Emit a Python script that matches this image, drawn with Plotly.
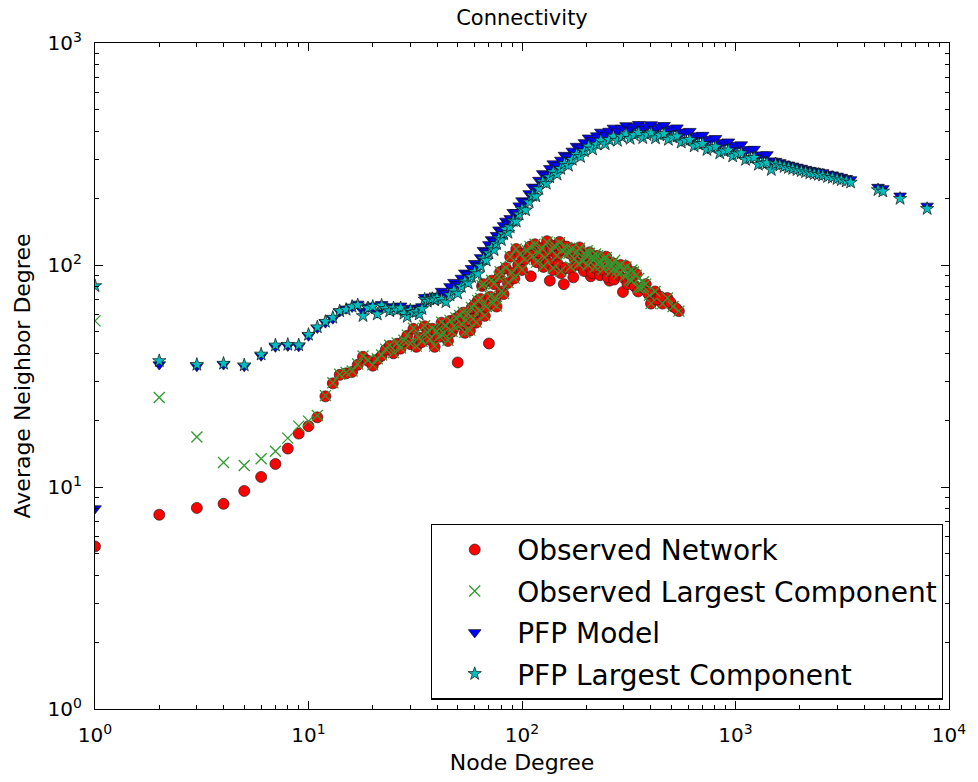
import plotly.graph_objects as go

# ---------------- data ----------------
obs_net_deg = [1, 2, 3, 4, 5, 6, 7, 8, 9, 10,
               11, 12, 13, 14, 15, 16, 17, 18, 19, 20,
               21, 22, 23, 24, 25, 26, 27, 28, 29, 30,
               31, 32, 33, 34, 35, 36, 37, 38, 39, 40,
               41, 42, 43, 44, 45, 46, 47, 48, 49, 50,
               51, 52, 53, 54, 55, 56, 57, 58, 59, 60,
               61, 62, 63, 64, 65, 66, 67, 68, 70, 71,
               72, 73, 74, 75, 76, 78, 79, 80, 82, 84,
               86, 88, 90, 92, 94, 96, 98, 100, 103, 106,
               109, 110, 112, 115, 117, 120, 124, 128, 131, 135,
               138, 142, 146, 150, 154, 157, 162, 166, 171, 176,
               181, 186, 192, 198, 207, 210, 216, 226, 236, 248,
               257, 266, 278, 290, 297, 307, 320, 333, 343, 360,
               380, 395, 402, 420, 455, 480, 510, 543,
               126, 133, 140, 148, 152, 160, 169, 174, 184, 195,
               204, 213, 220, 232, 240, 252, 262, 270, 284, 302,
               312, 326, 338, 350, 370, 388, 430, 445, 495, 525]
obs_net_avg = [5.4, 7.5, 8.05, 8.4, 9.6, 11.1, 12.7, 14.9, 17.4, 18.8,
               20.6, 25.6, 29.3, 32.0, 32.5, 33.0, 35.5, 38.6, 37.0, 35.2,
               37.5, 39.0, 41.5, 43.2, 40.0, 44.2, 42.0, 45.5, 48.0, 44.0,
               51.6, 42.8, 47.0, 45.0, 53.0, 49.5, 46.0, 51.6, 42.8, 50.0,
               47.5, 55.0, 49.0, 53.0, 45.5, 56.0, 50.0, 52.6, 57.5, 36.4,
               58.9, 54.0, 61.0, 49.5, 56.0, 60.0, 50.6, 64.0, 57.0, 66.0,
               55.0, 69.0, 62.0, 70.3, 80.5, 82.0, 59.0, 64.7, 44.3, 72.0,
               85.0, 67.0, 82.0, 70.3, 65.0, 88.0, 93.0, 76.0, 74.0, 97.0,
               83.0, 109.0, 92.0, 87.0, 118.0, 100.0, 112.0, 95.0, 106.0, 116.0,
               121.0, 89.0, 110.0, 124.0, 103.0, 114.0, 119.0, 108.0, 128.0, 85.0,
               116.0, 122.0, 110.0, 127.0, 117.0, 82.0, 121.0, 113.0, 118.0, 107.0,
               115.0, 120.0, 104.0, 111.0, 114.0, 89.0, 105.0, 110.0, 99.0, 109.0,
               85.0, 102.0, 94.0, 100.0, 75.6, 99.0, 86.0, 93.0, 91.0, 78.0,
               82.0, 73.0, 67.0, 76.0, 67.0, 71.0, 65.0, 62.0,
               98.0, 102.0, 95.0, 100.0, 92.0, 97.0, 96.0, 88.0, 100.0, 94.0,
               99.0, 92.0, 97.0, 90.0, 95.0, 88.0, 93.0, 86.0, 90.0, 87.0,
               82.0, 84.0, 80.0, 76.0, 79.0, 75.0, 70.0, 72.0, 68.0, 64.0]

obs_lc_deg = [1, 2, 3, 4, 5, 6, 7, 8, 9, 10,
              11, 12, 13, 14, 15, 16, 17, 18, 19, 20,
              21, 22, 23, 24, 25, 26, 27, 28, 29, 30,
              31, 32, 33, 34, 35, 36, 37, 38, 39, 40,
              41, 42, 43, 44, 45, 46, 47, 48, 49, 51,
              52, 53, 54, 55, 56, 57, 58, 59, 60, 61,
              62, 63, 64, 65, 66, 67, 68, 71, 72, 73,
              74, 75, 76, 78, 79, 80, 82, 84, 86, 88,
              90, 92, 94, 96, 98, 100, 103, 106, 109, 112,
              115, 117, 120, 124, 128, 131, 138, 142, 146, 150,
              154, 160, 162, 166, 171, 176, 181, 186, 192, 198,
              202, 207, 212, 216, 221, 226, 231, 236, 242, 248,
              254, 260, 266, 272, 278, 284, 290, 298, 307, 314,
              320, 327, 333, 343, 352, 360, 370, 380, 395, 402,
              420, 455, 480, 510, 543,
              126, 140, 152, 169, 184, 204, 220, 240, 262, 284,
              302, 326, 350, 370]
obs_lc_avg = [56.0, 25.3, 16.8, 12.9, 12.5, 13.4, 14.5, 16.6, 18.8, 19.8,
              21.0, 25.8, 29.5, 32.2, 32.8, 33.3, 35.8, 38.9, 37.3, 35.5,
              37.8, 39.3, 41.8, 43.5, 40.3, 44.5, 42.3, 45.8, 48.3, 44.3,
              51.9, 43.1, 47.3, 45.3, 53.3, 49.8, 46.3, 51.9, 43.1, 50.3,
              47.8, 55.3, 49.3, 53.3, 45.8, 56.3, 50.3, 52.9, 57.8, 59.2,
              54.3, 61.3, 49.8, 56.3, 60.3, 50.9, 64.3, 57.3, 66.3, 55.3,
              69.3, 62.3, 70.6, 80.8, 82.3, 59.3, 65.0, 72.3, 85.3, 67.3,
              82.3, 70.6, 65.3, 88.3, 93.3, 76.3, 74.3, 97.3, 83.3, 109.0,
              92.3, 87.3, 118.0, 100.0, 112.0, 95.3, 106.0, 116.0, 121.0, 110.0,
              124.0, 103.0, 114.0, 119.0, 108.0, 127.0, 116.0, 122.0, 110.0, 126.0,
              117.0, 112.0, 120.0, 113.0, 118.0, 107.0, 115.0, 119.0, 104.0, 111.0,
              116.0, 113.0, 108.0, 105.0, 112.0, 110.0, 104.0, 100.0, 107.0, 108.0,
              103.0, 98.0, 102.0, 105.0, 94.0, 99.0, 100.0, 95.0, 98.0, 92.0,
              86.0, 95.0, 93.0, 90.0, 87.0, 79.0, 84.0, 82.0, 73.0, 67.0,
              76.0, 67.0, 71.0, 65.0, 62.0,
              99.0, 97.0, 94.0, 98.0, 101.0, 100.0, 98.0, 96.0, 94.0, 91.0,
              89.0, 85.0, 79.0, 80.0]

pfp_deg = [1, 2, 3, 4, 5, 6, 7, 8, 9, 10,
           11, 12, 13, 14, 15, 16, 17, 18, 19, 20,
           21, 22, 23, 24, 25, 26, 27, 28, 29, 30,
           31, 32, 33, 34, 35, 36, 37, 38, 39, 40,
           42, 44, 46, 48, 50, 52, 54, 56, 58, 60,
           62, 64, 66, 68, 70, 72, 74, 76, 78, 80,
           82, 84, 86, 88, 91, 94, 97, 100, 104, 108,
           112, 116, 120, 125, 130, 135, 140, 146, 152, 158,
           165, 172, 180, 188, 196, 205, 214, 224, 234, 245,
           256, 268, 280, 293, 307, 321, 336, 352, 368, 385,
           403, 422, 442, 463, 485, 508, 532, 557, 583, 611,
           640, 670, 702, 735, 770, 806, 844, 884, 926, 970,
           1016, 1064, 1114, 1167, 1222, 1280, 1341, 1404, 1471, 1540,
           1613, 1690, 1770, 1854, 1941, 2033, 2129, 2230, 2336, 2446,
           2560, 2700, 2840, 2990, 3130, 3300, 3460, 4650, 4900, 5900,
           7900]
pfp_model_avg = [8.0, 35.6, 35.0, 35.6, 35.0, 39.0, 42.8, 43.2, 43.0, 48.0,
                 52.0, 55.0, 57.3, 61.7, 63.5, 64.7, 66.8, 62.0, 64.7, 65.6,
                 61.0, 66.5, 64.7, 63.0, 65.0, 63.5, 65.5, 62.0, 60.0, 64.0,
                 62.5, 63.0, 64.0, 65.0, 71.5, 70.0, 71.5, 72.0, 71.0, 72.6,
                 76.3, 74.7, 80.1, 83.7, 81.8, 87.4, 92.2, 90.9, 96.7, 101.8,
                 100.0, 108.2, 116.6, 115.1, 123.8, 130.4, 128.3, 136.2, 144.2, 142.4,
                 150.8, 157.9, 153.5, 162.2, 172.8, 172.7, 185.1, 195.0, 193.9, 210.1,
                 224.7, 224.2, 241.3, 258.6, 255.5, 272.5, 286.2, 280.8, 297.4, 312.7,
                 308.1, 326.6, 343.4, 337.3, 356.7, 374.2, 364.6, 382.7, 397.5, 384.8,
                 401.4, 414.5, 399.0, 413.9, 425.1, 407.0, 421.2, 430.4, 410.1, 422.2,
                 429.3, 409.1, 420.2, 426.1, 403.0, 411.8, 415.5, 391.9, 398.3, 400.7,
                 376.7, 382.7, 384.8, 362.6, 369.2, 372.1, 350.5, 356.7, 359.3, 339.4,
                 346.3, 348.7, 327.2, 331.8, 332.8, 311.1, 314.1, 314.8, 294.9, 293.8,
                 289.7, 285.6, 282.5, 279.5, 276.4, 273.4, 270.3, 267.2, 265.2, 263.2,
                 261.1, 257.0, 255.0, 251.9, 248.9, 245.8, 242.8, 224.4, 221.3, 205.0,
                 184.6]
pfp_lc_avg = [80.5, 37.0, 35.6, 36.0, 35.4, 39.6, 43.5, 43.8, 43.6, 48.6,
              52.5, 55.6, 58.0, 62.0, 63.0, 65.0, 66.0, 59.0, 64.0, 65.0,
              60.0, 65.8, 63.5, 62.0, 64.0, 62.5, 64.0, 60.5, 58.5, 62.5,
              61.0, 61.5, 60.0, 63.5, 70.0, 68.5, 70.0, 70.5, 69.5, 71.0,
              69.8, 68.1, 73.2, 76.6, 74.5, 79.8, 84.4, 82.8, 88.4, 93.1,
              91.1, 98.8, 106.7, 104.9, 113.1, 119.3, 116.8, 124.5, 131.9, 129.7,
              137.8, 144.5, 139.8, 148.2, 158.1, 157.3, 169.1, 178.5, 176.6, 191.9,
              205.6, 204.2, 220.4, 236.7, 232.8, 248.9, 261.9, 255.8, 271.7, 286.2,
              280.6, 298.3, 314.3, 307.3, 325.9, 342.4, 332.1, 349.6, 363.8, 350.5,
              366.7, 379.3, 363.4, 378.1, 389.0, 370.8, 384.8, 393.8, 373.5, 385.7,
              392.9, 372.6, 383.8, 389.9, 367.1, 376.2, 380.2, 357.0, 363.9, 366.7,
              343.2, 349.6, 352.1, 330.3, 337.3, 340.5, 319.2, 325.9, 328.8, 309.1,
              316.4, 319.1, 298.1, 303.1, 304.6, 283.4, 286.9, 288.1, 268.6, 285.1,
              281.2, 277.2, 274.2, 271.3, 268.3, 265.3, 262.4, 259.4, 257.4, 255.4,
              253.4, 249.5, 247.5, 244.5, 241.6, 238.6, 235.6, 217.8, 214.8, 199.0,
              179.2]

series_names = ["Observed Network", "Observed Largest Component",
                "PFP Model", "PFP Largest Component"]
x_tick_vals = [1, 10, 100, 1000, 10000]
x_tick_text = ["10<sup>0</sup>", "10<sup>1</sup>", "10<sup>2</sup>",
               "10<sup>3</sup>", "10<sup>4</sup>"]
y_tick_vals = [1, 10, 100, 1000]
y_tick_text = ["10<sup>0</sup>", "10<sup>1</sup>", "10<sup>2</sup>", "10<sup>3</sup>"]

FONT = "DejaVu Sans"

minor_x = [m * 10 ** e for e in range(0, 4) for m in range(2, 10)]
minor_y = [m * 10 ** e for e in range(0, 3) for m in range(2, 10)]

fig = go.Figure()
fig.add_trace(go.Scatter(
    x=obs_net_deg, y=obs_net_avg, mode="markers", name=series_names[0],
    legendgroup="a",
    marker=dict(symbol="circle", size=11, color="#ff0000",
                line=dict(color="#202020", width=0.7))))
fig.add_trace(go.Scatter(
    x=obs_lc_deg, y=obs_lc_avg, mode="markers", name=series_names[1],
    legendgroup="b",
    marker=dict(symbol="x-thin", size=11, color="#2f9a2f",
                line=dict(color="#2f9a2f", width=1.3))))
fig.add_trace(go.Scatter(
    x=pfp_deg, y=pfp_model_avg, mode="markers", name=series_names[2],
    legendgroup="c",
    marker=dict(symbol="triangle-down", size=11, color="#0000ff",
                line=dict(color="#101010", width=0.7))))
fig.add_trace(go.Scatter(
    x=pfp_deg, y=pfp_lc_avg, mode="markers", name=series_names[3],
    legendgroup="d",
    marker=dict(symbol="star", size=10, color="#00bfbf",
                line=dict(color="#101010", width=0.7))))

axis_common = dict(
    type="log", showline=True, linecolor="black", linewidth=1.2,
    mirror="allticks", ticks="inside", ticklen=8, tickwidth=1,
    tickcolor="black", showgrid=False, zeroline=False,
    tickfont=dict(family=FONT, size=20, color="black"),
)

fig.update_xaxes(
    **axis_common, range=[0, 4], tickvals=x_tick_vals, ticktext=x_tick_text,
    ticklabelstandoff=8,
    minor=dict(ticks="inside", ticklen=4, tickwidth=1, tickcolor="black",
               tickvals=minor_x, showgrid=False),
    title=dict(text="Node Degree", font=dict(family=FONT, size=22, color="black"),
               standoff=8),
)
fig.update_yaxes(
    **axis_common, range=[0, 3], tickvals=y_tick_vals, ticktext=y_tick_text,
    ticklabelstandoff=8,
    minor=dict(ticks="inside", ticklen=4, tickwidth=1, tickcolor="black",
               tickvals=minor_y, showgrid=False),
    title=dict(text="Average Neighbor Degree",
               font=dict(family=FONT, size=22, color="black"), standoff=10),
)

fig.update_layout(
    width=978, height=782,
    margin=dict(l=95, r=23, t=43, b=70),
    paper_bgcolor="white", plot_bgcolor="white",
    font=dict(family=FONT, color="black"),
    title=dict(text="Connectivity", x=0.5, xref="paper", xanchor="center",
               y=1 - 18 / 782, yref="container", yanchor="middle",
               font=dict(family=FONT, size=21, color="black")),
    legend=dict(x=0.993, y=0.014, xanchor="right", yanchor="bottom",
                bgcolor="white", bordercolor="black", borderwidth=1.2,
                font=dict(family=FONT, size=28, color="black"),
                tracegroupgap=2, itemwidth=75),
)

fig.write_html("out.html")
